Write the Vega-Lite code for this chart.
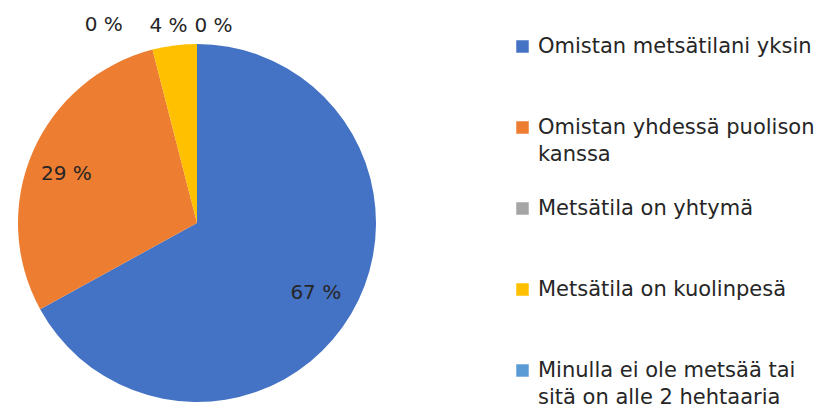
{
  "$schema": "https://vega.github.io/schema/vega-lite/v6.json",
  "width": 358,
  "height": 358,
  "autosize": {"type": "none"},
  "padding": {"left": 18, "top": 44, "right": 447, "bottom": 9},
  "background": "white",
  "data": {
    "values": [
      {"cat": "Omistan metsätilani yksin", "value": 67, "order": 1},
      {"cat": "Omistan yhdessä puolison kanssa", "value": 29, "order": 2},
      {"cat": "Metsätila on yhtymä", "value": 0, "order": 3},
      {"cat": "Metsätila on kuolinpesä", "value": 4, "order": 4},
      {"cat": "Minulla ei ole metsää tai sitä on alle 2 hehtaaria", "value": 0, "order": 5}
    ]
  },
  "transform": [{"calculate": "datum.value + ' %'", "as": "lbl"}],
  "encoding": {
    "theta": {"field": "value", "type": "quantitative", "stack": true},
    "order": {"field": "order", "type": "quantitative"}
  },
  "layer": [
    {
      "mark": {"type": "arc", "outerRadius": 179},
      "encoding": {
        "color": {
          "field": "cat",
          "type": "nominal",
          "scale": {
            "domain": ["Omistan metsätilani yksin", "Omistan yhdessä puolison kanssa", "Metsätila on yhtymä", "Metsätila on kuolinpesä", "Minulla ei ole metsää tai sitä on alle 2 hehtaaria"],
            "range": ["#4472C4", "#ED7D31", "#A5A5A5", "#FFC000", "#5B9BD5"]
          },
          "legend": {
            "orient": "none",
            "legendX": 494,
            "legendY": -8,
            "title": null,
            "symbolType": "square",
            "symbolSize": 156,
            "symbolStrokeWidth": 0,
            "labelFont": "DejaVu Sans",
            "labelFontSize": 21,
            "labelColor": "#262626",
            "labelLimit": 400,
            "labelOffset": 5,
            "columns": 1,
            "gridAlign": "all",
            "rowPadding": 32,
            "padding": 0,
            "labelExpr": "datum.label == 'Omistan yhdessä puolison kanssa' ? ['Omistan yhdessä puolison', 'kanssa'] : datum.label == 'Minulla ei ole metsää tai sitä on alle 2 hehtaaria' ? ['Minulla ei ole metsää tai', 'sitä on alle 2 hehtaaria'] : datum.label"
          }
        }
      }
    },
    {
      "mark": {"type": "text", "radius": 138, "fontSize": 20, "font": "DejaVu Sans", "color": "#262626"},
      "encoding": {
        "detail": {"field": "cat"},
        "text": {"condition": {"test": "datum.order == 1", "field": "lbl"}, "value": ""}
      }
    },
    {
      "mark": {"type": "text", "radius": 138, "dx": -4, "dy": 6, "fontSize": 20, "font": "DejaVu Sans", "color": "#262626"},
      "encoding": {
        "detail": {"field": "cat"},
        "text": {"condition": {"test": "datum.order == 2", "field": "lbl"}, "value": ""}
      }
    },
    {
      "mark": {"type": "text", "radius": 204, "dx": -42.5, "fontSize": 20, "font": "DejaVu Sans", "color": "#262626"},
      "encoding": {
        "detail": {"field": "cat"},
        "text": {"condition": {"test": "datum.order == 3", "field": "lbl"}, "value": ""}
      }
    },
    {
      "mark": {"type": "text", "radius": 199, "dx": -3.5, "fontSize": 20, "font": "DejaVu Sans", "color": "#262626"},
      "encoding": {
        "detail": {"field": "cat"},
        "text": {"condition": {"test": "datum.order == 4", "field": "lbl"}, "value": ""}
      }
    },
    {
      "mark": {"type": "text", "radius": 197.5, "dx": 16.5, "fontSize": 20, "font": "DejaVu Sans", "color": "#262626"},
      "encoding": {
        "detail": {"field": "cat"},
        "text": {"condition": {"test": "datum.order == 5", "field": "lbl"}, "value": ""}
      }
    }
  ],
  "config": {
    "view": {"stroke": null},
    "style": {"guide-label": {"lineHeight": 27}}
  }
}
